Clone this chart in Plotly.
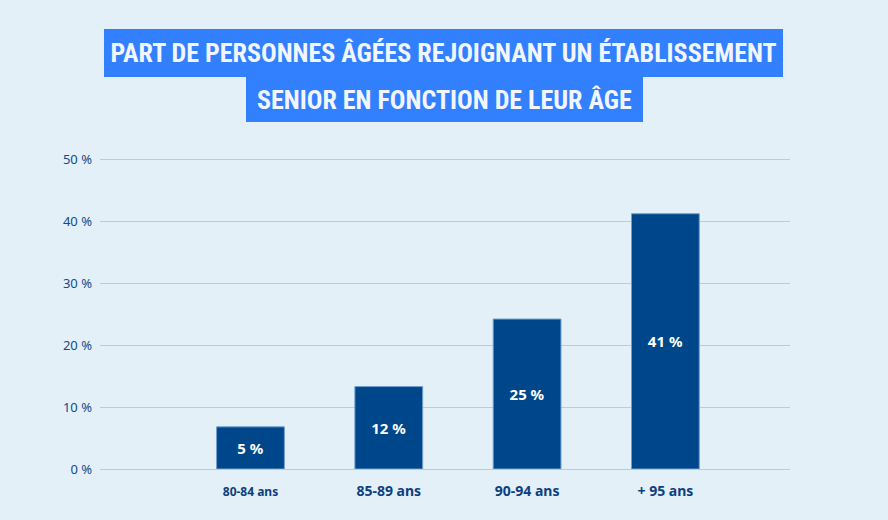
import plotly.graph_objects as go

categories = ["80-84 ans", "85-89 ans", "90-94 ans", "+ 95 ans"]
tick_text = ['<span style="font-size:12px">80-84 ans</span>', "85-89 ans", "90-94 ans", "+ 95 ans"]
values = [6.8, 13.3, 24.2, 41.2]
labels = ["5 %", "12 %", "25 %", "41 %"]
y_ticks = [0, 10, 20, 30, 40, 50]
y_tick_text = ["0 %", "10 %", "20 %", "30 %", "40 %", "50 %"]
title_lines = ["PART DE PERSONNES ÂGÉES REJOIGNANT UN ÉTABLISSEMENT",
               "SENIOR EN FONCTION DE LEUR ÂGE"]

BG = "#e3f0f8"
BAR = "#00468a"
TXT = "#134a8a"
GRID = "#b4cde3"
TITLE_BG = "#3380ff"

W, H = 888, 520
ML, MR, MT, MB = 100, 98, 153, 51

fig = go.Figure()
fig.add_trace(go.Bar(
    x=list(range(len(categories))), y=values, width=0.49,
    marker=dict(color=BAR, line=dict(color="#6f9fcf", width=1)),
    text=labels, textposition="inside", insidetextanchor="middle",
    textangle=0,
    textfont=dict(family="Noto Sans", size=15, color="white", weight="bold"),
    hoverinfo="skip",
))

fig.update_layout(
    width=W, height=H,
    margin=dict(l=ML, r=MR, t=MT, b=MB),
    paper_bgcolor=BG, plot_bgcolor=BG,
    showlegend=False,
    xaxis=dict(range=[-1.088, 3.901], tickmode="array",
               tickvals=list(range(len(categories))), ticktext=tick_text,
               showgrid=False, zeroline=False, showline=False,
               tickfont=dict(family="Noto Sans", size=14, color="#0e3f7f", weight="bold"),
               ticklabelstandoff=12, fixedrange=True),
    yaxis=dict(range=[0, 51], tickmode="array", tickvals=y_ticks, ticktext=y_tick_text,
               showgrid=True, gridcolor=GRID, gridwidth=1,
               zeroline=True, zerolinecolor=GRID, zerolinewidth=1,
               showline=False,
               tickfont=dict(family="Noto Sans", size=13, color=TXT),
               ticklabelstandoff=7, fixedrange=True),
)

def px_to_paper_x(px):
    return (px - ML) / (W - ML - MR)

def px_to_paper_y(py):
    return (H - MB - py) / (H - MT - MB)

boxes = [(104, 783, 30, 78), (246, 643, 78, 123)]
for text, (x0, x1, y0, y1) in zip(title_lines, boxes):
    fig.add_annotation(
        text=f"<b>{text}</b>", xref="paper", yref="paper",
        x=px_to_paper_x((x0 + x1) / 2), y=px_to_paper_y((y0 + y1) / 2 - 1),
        xanchor="center", yanchor="middle", showarrow=False,
        width=x1 - x0, height=y1 - y0, borderpad=0, borderwidth=0,
        bgcolor=TITLE_BG,
        font=dict(family="Liberation Sans Narrow, Roboto Condensed, Noto Sans", size=26, color="#f2f6ff"),
    )

fig.write_html("out.html")
